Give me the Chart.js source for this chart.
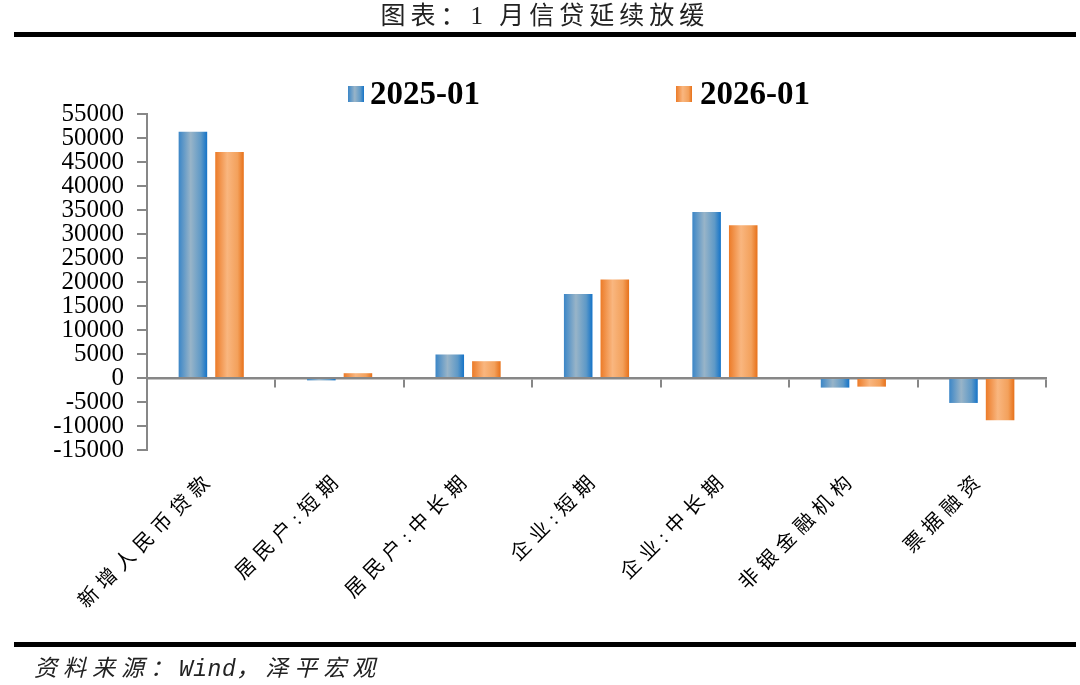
<!DOCTYPE html>
<html>
<head>
<meta charset="utf-8">
<script src="https://cdn.jsdelivr.net/npm/chart.js@4.4.1/dist/chart.umd.min.js"></script>
<style>
  html, body { margin: 0; padding: 0; background: #fff; }
  #wrap { position: relative; width: 1080px; height: 685px; overflow: hidden; background: #fff; }
  #chart { position: absolute; left: 0; top: 0; }
  .title { position: absolute; left: 0; top: 0; width: 1090px; height: 32px; line-height: 32px; text-align: center;
           font-family: "Liberation Serif", "Noto Sans CJK SC"; font-size: 25px; letter-spacing: 5px; color: #222; white-space: pre; }
  .rule { position: absolute; left: 14px; width: 1062px; height: 5px; background: #000; }
  .lg-box { position: absolute; width: 16px; height: 16px; top: 86px; }
  .lg-text { position: absolute; top: 76px; height: 34px; line-height: 34px; font-family: "Liberation Serif"; font-weight: bold; font-size: 33px; color: #000; white-space: nowrap; }
  .foot { position: absolute; left: 34px; top: 650px; height: 32px; line-height: 32px; font-family: "Noto Sans CJK SC"; font-style: italic;
          font-size: 23px; letter-spacing: 6px; color: #222; white-space: pre; }
  .foot .lat { font-family: "Liberation Mono"; letter-spacing: 0.5px; }
</style>
</head>
<body>
<div id="wrap">
  <canvas id="chart" width="1080" height="685"></canvas>
  <div class="title">图表：1 月信贷延续放缓</div>
  <div class="rule" style="top:32px;"></div>
  <div id="legend"></div>
  <div class="rule" style="top:642px;"></div>
  <div class="foot">资料来源：<span class="lat">Wind</span>，泽平宏观</div>
</div>
<script>
// ---- data ----
const categories = ['新增人民币贷款', '居民户:短期', '居民户:中长期', '企业:短期', '企业:中长期', '非银金融机构', '票据融资'];
const seriesNames = ['2025-01', '2026-01'];
const values2025 = [51300, -500, 4900, 17500, 34600, -2000, -5200];
const values2026 = [47100, 1000, 3500, 20500, 31800, -1800, -8800];
const yTickValues = [-15000, -10000, -5000, 0, 5000, 10000, 15000, 20000, 25000, 30000, 35000, 40000, 45000, 50000, 55000];

// ---- styling ----
const blueStops = [[0, '#3b86c7'], [0.42, '#98b4c8'], [0.78, '#5e99c7'], [1, '#1473c8']];
const orangeStops = [[0, '#ec7b28'], [0.42, '#f9b67f'], [0.78, '#f3a15c'], [1, '#e7711a']];
const CAT_PCT = 0.57, BAR_PCT = 0.78;

function barGradient(stops) {
  return function (c) {
    const chart = c.chart;
    const xs = chart.scales && chart.scales.x;
    if (c.type !== 'data' || !xs || !xs.width) return stops[1][1];
    const catW = xs.width / categories.length;
    const center = xs.getPixelForValue(c.dataIndex);
    const range = catW * CAT_PCT;
    const slot = range / 2;
    const dsCenter = center - range / 2 + slot * (c.datasetIndex + 0.5);
    const w = slot * BAR_PCT;
    const g = chart.ctx.createLinearGradient(dsCenter - w / 2, 0, dsCenter + w / 2, 0);
    stops.forEach(s => g.addColorStop(s[0], s[1]));
    return g;
  };
}

// HTML legend
const legend = document.getElementById('legend');
const lgPos = [[348, 370], [676, 700]];
[blueStops, orangeStops].forEach((st, i) => {
  const b = document.createElement('div');
  b.className = 'lg-box';
  b.style.left = lgPos[i][0] + 'px';
  b.style.background = 'linear-gradient(to right,' + st.map(s => s[1] + ' ' + (s[0] * 100) + '%').join(',') + ')';
  legend.appendChild(b);
  const t = document.createElement('div');
  t.className = 'lg-text';
  t.style.left = lgPos[i][1] + 'px';
  t.textContent = seriesNames[i];
  legend.appendChild(t);
});

const spacingPlugin = {
  id: 'xLabelSpacing',
  afterDatasetsDraw(chart) { chart.ctx.letterSpacing = '6px'; },
  afterDraw(chart) { chart.ctx.letterSpacing = '0px'; }
};

const axisGray = '#878787';

new Chart(document.getElementById('chart'), {
  type: 'bar',
  data: {
    labels: categories,
    datasets: [
      { label: seriesNames[0], data: values2025, backgroundColor: barGradient(blueStops), borderWidth: 0,
        categoryPercentage: CAT_PCT, barPercentage: BAR_PCT },
      { label: seriesNames[1], data: values2026, backgroundColor: barGradient(orangeStops), borderWidth: 0,
        categoryPercentage: CAT_PCT, barPercentage: BAR_PCT }
    ]
  },
  options: {
    responsive: false,
    animation: false,
    devicePixelRatio: 1,
    layout: { padding: { top: 114, right: 34, left: 0, bottom: 0 } },
    plugins: { legend: { display: false }, title: { display: false }, tooltip: { enabled: false } },
    scales: {
      x: {
        type: 'category',
        offset: true,
        grid: { display: false, drawTicks: false },
        border: { display: false },
        ticks: {
          font: { family: '"Liberation Serif", "Noto Sans CJK SC"', size: 20 },
          color: '#000', minRotation: 45, maxRotation: 45, padding: 18, autoSkip: false, z: 1
        },
        afterFit: s => { s.height = 685 - 450; }
      },
      x2: {
        type: 'category',
        labels: categories,
        position: { y: 0 },
        offset: true,
        grid: {
          offset: true, drawOnChartArea: false, drawTicks: true, tickLength: 8, lineWidth: 2,
          color: c => (c.index === 0 || c.index === categories.length) ? 'rgba(0,0,0,0)' : axisGray
        },
        border: { display: true, color: axisGray, width: 2.5 },
        ticks: { display: false },
        afterFit: s => { s.height = 0; }
      },
      y: {
        min: yTickValues[0],
        max: yTickValues[yTickValues.length - 1],
        afterBuildTicks: s => { s.ticks = yTickValues.map(v => ({ value: v })); },
        ticks: {
          font: { family: '"Liberation Serif"', size: 25 },
          color: '#000', padding: 13, autoSkip: false,
          callback: v => String(v)
        },
        grid: { drawOnChartArea: false, drawTicks: true, tickLength: 10, color: axisGray, lineWidth: 2 },
        border: { display: true, color: axisGray, width: 2 },
        afterFit: s => { s.width = 147; }
      }
    }
  },
  plugins: [spacingPlugin]
});
</script>
</body>
</html>
